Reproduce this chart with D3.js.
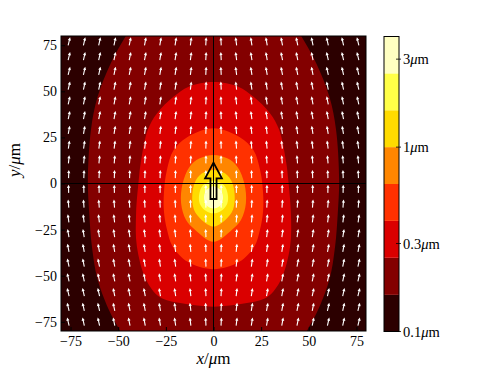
<!DOCTYPE html>
<html>
<head>
<meta charset="utf-8">
<script src="https://cdn.jsdelivr.net/npm/d3@7"></script>
<style>
  body { margin: 0; background: #fff; }
  text { font-family: "Liberation Serif", "Times New Roman", serif; fill: #000; }
</style>
</head>
<body>
<svg id="chart" width="491" height="368"></svg>
<script>
// contour levels (log spaced, in micrometres)
const levels = [0.1, 0.158, 0.251, 0.398, 0.631, 1.0, 1.585, 2.512, 3.981];
const cbTicks = [0.1, 0.3, 1, 3];
const cbTickLabels = ["0.1", "0.3", "1", "3"];

const xTicks = [-75, -50, -25, 0, 25, 50, 75];
const yTicks = [-75, -50, -25, 0, 25, 50, 75];

// contour boundaries, [x, y] in micrometres
const edge016 = [
  [-34, 100], [-46, 80], [-54, 65], [-60.8, 47], [-64.3, 29], [-65.9, 2],
  [-65.2, -16], [-63.8, -34], [-60.8, -52], [-54.2, -70], [-49, -80], [-40, -98],
  [40, -98], [49, -80], [54.2, -70], [60.8, -52], [63.8, -34], [65.2, -16],
  [65.9, 2], [64.3, 29], [60.8, 47], [54, 65], [46, 80], [34, 100]
];
const edge025 = [
  [0, 55], [13, 52.5], [21, 47], [29.7, 38], [34.5, 29], [38.2, 11], [39.2, 2],
  [40.6, -16], [40.2, -34], [35.4, -52], [28.4, -61.4], [16.7, -65], [0, -66.8],
  [-16.7, -65], [-28.4, -61.4], [-35.4, -52], [-40.2, -34], [-40.6, -16],
  [-39.2, 2], [-38.2, 11], [-34.5, 29], [-29.7, 38], [-21, 47], [-13, 52.5]
];
const edge040 = [
  [0, 30], [14, 25], [21, 18], [24.5, 7], [26, -5], [26, -15], [24.4, -25],
  [21.5, -34], [13.5, -42.5], [0, -46.5], [-13.5, -42.5], [-21.5, -34],
  [-24.4, -25], [-26, -15], [-26, -5], [-24.5, 7], [-21, 18], [-14, 25]
];
const edge063 = [
  [0, 15.5], [7.5, 13.5], [12.6, 9], [16.2, 0], [17, -10.7], [14.4, -19.8],
  [9.6, -25.2], [0, -31.6], [-9.6, -25.2], [-14.4, -19.8], [-17, -10.7],
  [-16.2, 0], [-12.6, 9], [-7.5, 13.5]
];
const edge100 = [
  [0, 7.3], [6, 5.5], [10, 0], [11, -10.7], [8.7, -17], [0, -23.4],
  [-8.7, -17], [-11, -10.7], [-10, 0], [-6, 5.5]
];
const edge158 = [
  [0, 1.5], [5.5, -1], [7.5, -6], [7.2, -11], [4.5, -14.5], [0, -16.2],
  [-4.5, -14.5], [-7.2, -11], [-7.5, -6], [-5.5, -1]
];
const edge251 = [
  [0, -1.5], [4, -4], [5, -8], [3.5, -12], [0, -13.5], [-3.5, -12],
  [-5, -8], [-4, -4]
];
const edges = [edge016, edge025, edge040, edge063, edge100, edge158, edge251];

// quiver grid and arrow tilt (degrees, clockwise)
const quiverX = [-76, -68, -60, -52, -44, -36, -28, -20, -12, -4, 4, 12, 20, 28, 36, 44, 52, 60, 68, 76];
const quiverY = [76, 68, 60, 52, 44, 36, 28, 20, 12, 4, -4, -12, -20, -28, -36, -44, -52, -60, -68, -76];
const quiverColTilt = [14, 13, 13, 12, 12, 11, 10, 9, 7, 3, -3, -7, -9, -10, -11, -12, -12, -13, -13, -14];
const quiverRowWeight = [1, 1, 1, 0.95, 0.9, 0.85, 0.75, 0.6, 0.4, 0.15, -0.1, -0.35, -0.55, -0.7, -0.8, -0.9, -0.95, -1, -1, -1];

// the big outlined arrow (moment), [x, y] in micrometres
const momentArrow = [
  [-1.6, -8.4], [1.6, -8.4], [1.6, 2.8], [4.4, 2.8], [0, 11.3],
  [-4.4, 2.8], [-1.6, 2.8]
];

// "hot" colormap, one colour per band
const bandColors = ["#2c0000", "#830000", "#da0000", "#ff3100", "#ff8600", "#ffdb00", "#ffff47", "#ffffc2"];

const svg = d3.select("#chart");
const plot = { left: 61, right: 366, top: 36, bottom: 331 };

const x = d3.scaleLinear().domain([-80, 80]).range([plot.left, plot.right]);
const y = d3.scaleLinear().domain([-80, 80]).range([plot.bottom, plot.top]);

svg.append("defs")
  .append("clipPath")
  .attr("id", "plot-clip")
  .append("rect")
  .attr("x", plot.left)
  .attr("y", plot.top)
  .attr("width", plot.right - plot.left)
  .attr("height", plot.bottom - plot.top);

const field = svg.append("g").attr("clip-path", "url(#plot-clip)");

// lowest band fills the whole axes
field.append("rect")
  .attr("x", plot.left)
  .attr("y", plot.top)
  .attr("width", plot.right - plot.left)
  .attr("height", plot.bottom - plot.top)
  .style("fill", bandColors[0]);

const contourLine = d3.line()
  .x(d => x(d[0]))
  .y(d => y(d[1]))
  .curve(d3.curveCatmullRomClosed.alpha(0.5));

field.selectAll("path.band")
  .data(edges)
  .enter()
  .append("path")
  .attr("class", "band")
  .attr("d", contourLine)
  .style("fill", (d, i) => bandColors[i + 1])
  .style("stroke", "none");

// quiver arrows
const quiverData = [];
quiverY.forEach((qy, r) => {
  quiverX.forEach((qx, c) => {
    quiverData.push({ qx, qy, tilt: quiverColTilt[c] * quiverRowWeight[r] });
  });
});

// arrow shape in px, pointing up, tail near the grid point
const arrowShape = "M-0.55,2 L-0.55,-3 L-1.6,-3 L0,-6.2 L1.6,-3 L0.55,-3 L0.55,2 Z";

field.selectAll("path.quiver")
  .data(quiverData)
  .enter()
  .append("path")
  .attr("class", "quiver")
  .attr("transform", d => `translate(${x(d.qx)},${y(d.qy)}) rotate(${d.tilt})`)
  .attr("d", arrowShape)
  .style("fill", "#fff");

// crosshair through the origin
field.append("line")
  .attr("x1", x(0)).attr("x2", x(0))
  .attr("y1", plot.top).attr("y2", plot.bottom)
  .style("stroke", "#000").style("stroke-width", 1);
field.append("line")
  .attr("x1", plot.left).attr("x2", plot.right)
  .attr("y1", y(0)).attr("y2", y(0))
  .style("stroke", "#000").style("stroke-width", 1);

// big outlined arrow
field.append("path")
  .attr("d", d3.line().x(d => x(d[0])).y(d => y(d[1]))(momentArrow) + "Z")
  .style("fill", "none")
  .style("stroke", "#000")
  .style("stroke-width", 1.8)
  .style("stroke-linejoin", "miter");

// axes
const xAxis = svg.append("g")
  .attr("transform", `translate(0,${plot.bottom})`)
  .call(d3.axisBottom(x).tickValues(xTicks).tickSizeInner(-4).tickSizeOuter(0).tickPadding(5));
const yAxis = svg.append("g")
  .attr("transform", `translate(${plot.left},0)`)
  .call(d3.axisLeft(y).tickValues(yTicks).tickSizeInner(-4).tickSizeOuter(0).tickPadding(4));

[xAxis, yAxis].forEach(axis => {
  axis.select(".domain").remove();
  axis.selectAll("line").style("stroke", "#000");
  axis.selectAll("text")
    .style("font-family", "'Liberation Serif', serif")
    .style("font-size", "14px")
    .style("fill", "#000");
});

// frame
svg.append("rect")
  .attr("x", plot.left)
  .attr("y", plot.top)
  .attr("width", plot.right - plot.left)
  .attr("height", plot.bottom - plot.top)
  .style("fill", "none")
  .style("stroke", "#000")
  .style("stroke-width", 1);

// axis labels
const xLabel = svg.append("text")
  .attr("x", (plot.left + plot.right) / 2)
  .attr("y", 364)
  .attr("text-anchor", "middle")
  .style("font-size", "17px");
xLabel.append("tspan").style("font-style", "italic").text("x");
xLabel.append("tspan").text("/");
xLabel.append("tspan").style("font-style", "italic").text("μ");
xLabel.append("tspan").text("m");

const yLabel = svg.append("text")
  .attr("transform", "translate(20,160) rotate(-90)")
  .attr("text-anchor", "middle")
  .style("font-size", "17px");
yLabel.append("tspan").style("font-style", "italic").text("y");
yLabel.append("tspan").text("/");
yLabel.append("tspan").style("font-style", "italic").text("μ");
yLabel.append("tspan").text("m");

// colorbar
const cb = { left: 384, width: 15, top: 36.5, bottom: 331.5 };
const cbScale = d3.scaleLog()
  .domain([levels[0], levels[levels.length - 1]])
  .range([cb.bottom, cb.top]);

const colorbar = svg.append("g");
colorbar.selectAll("rect.cb-band")
  .data(d3.pairs(levels))
  .enter()
  .append("rect")
  .attr("class", "cb-band")
  .attr("x", cb.left)
  .attr("y", d => cbScale(d[1]))
  .attr("width", cb.width)
  .attr("height", d => cbScale(d[0]) - cbScale(d[1]))
  .style("fill", (d, i) => bandColors[i]);

colorbar.append("rect")
  .attr("x", cb.left)
  .attr("y", cb.top)
  .attr("width", cb.width)
  .attr("height", cb.bottom - cb.top)
  .style("fill", "none")
  .style("stroke", "#000")
  .style("stroke-width", 1);

colorbar.selectAll("line.cb-tick")
  .data(cbTicks)
  .enter()
  .append("line")
  .attr("class", "cb-tick")
  .attr("x1", cb.left + cb.width - 3)
  .attr("x2", cb.left + cb.width + 2)
  .attr("y1", d => cbScale(d))
  .attr("y2", d => cbScale(d))
  .style("stroke", "#000")
  .style("stroke-width", 0.8);

const cbLabels = colorbar.selectAll("text.cb-label")
  .data(cbTicks)
  .enter()
  .append("text")
  .attr("class", "cb-label")
  .attr("x", cb.left + cb.width + 4)
  .attr("y", d => cbScale(d))
  .attr("dy", "0.35em")
  .style("font-size", "14.5px");
cbLabels.append("tspan").text((d, i) => cbTickLabels[i]);
cbLabels.append("tspan").style("font-style", "italic").text("μ");
cbLabels.append("tspan").text("m");
</script>
</body>
</html>
